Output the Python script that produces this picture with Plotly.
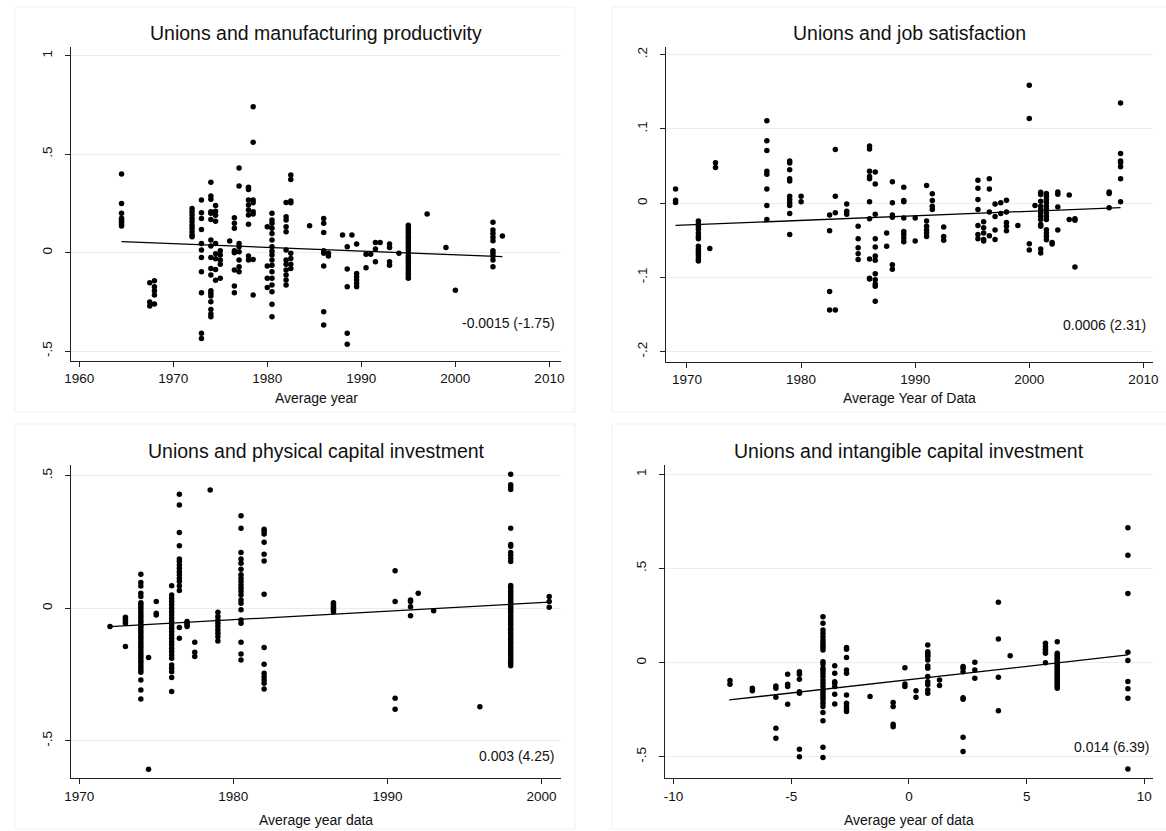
import plotly.graph_objects as go

# ---------------- DATA ----------------
# Panel 1: Unions and manufacturing productivity (x = average year)
p1_cols = [
    (1964.5, [0.40, 0.25, 0.20, 0.175, 0.165, 0.155, 0.145, 0.135]),
    (1967.5, [-0.152, -0.25, -0.27]),
    (1968.0, [-0.142, -0.173, -0.193, -0.215, -0.26]),
    (1972.0, [0.225, 0.208, 0.191, 0.174, 0.157, 0.14, 0.124, 0.107, 0.09, 0.081]),
    (1973.0, [0.267, 0.203, 0.174, 0.118, 0.047, 0.014, -0.024, -0.096, -0.203, -0.409, -0.435]),
    (1974.0, [0.357, 0.288, 0.271, 0.208, 0.2, 0.169, 0.064, 0.034, -0.024, -0.08, -0.113, -0.193,
              -0.206, -0.22, -0.249, -0.288, -0.311, -0.325]),
    (1974.5, [0.24, 0.21, 0.19, 0.16, 0.047, -0.005, -0.03, -0.085, -0.14]),
    (1975.0, [0.01, -0.012, -0.037, -0.058, -0.13]),
    (1976.0, [0.059]),
    (1976.5, [0.178, 0.149, 0.124, 0.01, 0.0, -0.088, -0.169, -0.203]),
    (1977.0, [0.43, 0.338, 0.047, 0.03, 0.005, -0.037, -0.071, -0.096]),
    (1978.0, [0.332, 0.321, 0.267, 0.242, 0.217, 0.191, 0.144, -0.017, -0.037]),
    (1978.5, [0.741, 0.56, 0.267, 0.254, 0.208, 0.196, -0.034, -0.215]),
    (1980.0, [0.132, -0.068, -0.13, -0.176]),
    (1980.5, [0.2, 0.166, 0.149, 0.124, 0.098, 0.064, 0.03, 0.008, -0.012, -0.037, -0.063, -0.096,
              -0.13, -0.164, -0.198, -0.262, -0.325]),
    (1982.0, [0.255, 0.183, 0.166, 0.132, 0.107, 0.014, -0.037, -0.058, -0.088, -0.113, -0.139, -0.164]),
    (1982.5, [0.394, 0.372, 0.262, 0.254, -0.003, -0.029, -0.058, -0.08]),
    (1984.5, [0.137]),
    (1986.0, [0.174, 0.149, 0.103, 0.01, -0.003, -0.068, -0.3, -0.367]),
    (1986.5, [-0.003, -0.017]),
    (1988.0, [0.09]),
    (1988.5, [0.03, -0.083, -0.173, -0.409, -0.464]),
    (1989.0, [0.09]),
    (1989.5, [0.044, -0.105, -0.122, -0.139, -0.156, -0.173]),
    (1990.5, [-0.008, -0.076]),
    (1991.0, [-0.008]),
    (1991.5, [0.052, 0.019, -0.046]),
    (1992.0, [0.052]),
    (1993.0, [0.044, 0.027, -0.046, -0.063]),
    (1994.0, [-0.003]),
    (1995.0, [0.140, 0.127, 0.115, 0.102, 0.090, 0.078, 0.064, 0.052, 0.039, 0.027, 0.014, -0.003,
              -0.017, -0.029, -0.042, -0.054, -0.068, -0.080, -0.093, -0.105, -0.118, -0.130]),
    (1997.0, [0.196]),
    (1999.0, [0.027]),
    (2000.0, [-0.19]),
    (2004.0, [0.154, 0.115, 0.098, 0.078, 0.061, 0.01, -0.003, -0.017, -0.037, -0.071]),
    (2005.0, [0.085]),
]
p1_fit_x = [1964.5, 2005.0]
p1_fit_y = [0.056, -0.020]

# Panel 2: Unions and job satisfaction
p2_cols = [
    (1969.0, [0.019, 0.004, 0.001]),
    (1971.0, [-0.024, -0.028, -0.031, -0.035, -0.040, -0.045, -0.048, -0.058, -0.062, -0.065,
              -0.068, -0.071, -0.075, -0.078]),
    (1972.0, [-0.061]),
    (1972.5, [0.0545, 0.048]),
    (1977.0, [0.111, 0.084, 0.071, 0.043, 0.039, 0.019, -0.003, -0.022]),
    (1979.0, [0.057, 0.054, 0.045, 0.033, 0.030, 0.0095, 0.005, 0.0005, -0.003, -0.014, -0.042]),
    (1980.0, [0.0095, 0.002]),
    (1982.5, [-0.016, -0.037, -0.119, -0.144]),
    (1983.0, [0.0725, 0.0095, -0.013, -0.144]),
    (1984.0, [-0.001, -0.011, -0.015]),
    (1985.0, [-0.031, -0.048, -0.060, -0.068, -0.076]),
    (1986.0, [0.077, 0.073, 0.043, 0.036, 0.033, 0.002, -0.021, -0.075, -0.101, -0.102]),
    (1986.5, [0.042, 0.026, -0.015, -0.048, -0.059, -0.071, -0.077, -0.095, -0.103, -0.109, -0.112, -0.132]),
    (1987.5, [-0.040, -0.058]),
    (1988.0, [0.029, 0.0005, -0.016, -0.019, -0.083, -0.089]),
    (1989.0, [0.0216, 0.0036, 0.002, -0.020, -0.038, -0.042, -0.047, -0.052]),
    (1990.0, [-0.020, -0.051]),
    (1991.0, [0.024, -0.024, -0.031, -0.036, -0.040, -0.045]),
    (1991.5, [0.0126, 0.0036, -0.004, -0.0086]),
    (1992.5, [-0.032, -0.045, -0.050]),
    (1995.5, [0.031, 0.020, 0.005, -0.0086, -0.030, -0.042, -0.048]),
    (1996.0, [-0.025, -0.033, -0.040, -0.049, -0.051]),
    (1996.5, [0.033, 0.019, -0.012, -0.044]),
    (1997.0, [-0.001, -0.018, -0.036, -0.049]),
    (1997.5, [0.0005, -0.014]),
    (1998.0, [0.004, -0.012, -0.026, -0.031, -0.037]),
    (1999.0, [-0.030]),
    (2000.0, [0.159, 0.114, -0.0545, -0.063]),
    (2000.5, [-0.003]),
    (2001.0, [0.0149, 0.0117, 0.0027, -0.0041, -0.0086, -0.0131, -0.0176, -0.0221, -0.0288, -0.0311,
              -0.0617, -0.0671]),
    (2001.5, [0.0131, 0.0095, 0.005, 0.0005, -0.0041, -0.0086, -0.0131, -0.0176, -0.0221, -0.0356,
              -0.0401, -0.0446, -0.0491]),
    (2002.0, [-0.053, -0.055]),
    (2002.5, [0.015, 0.012, -0.005, -0.036]),
    (2003.5, [0.011, -0.022]),
    (2004.0, [-0.021, -0.023, -0.086]),
    (2007.0, [0.015, 0.013, -0.006]),
    (2008.0, [0.135, 0.067, 0.057, 0.0545, 0.049, 0.033, 0.002]),
]
p2_fit_x = [1969.0, 2008.0]
p2_fit_y = [-0.030, -0.0059]

# Panel 3: Unions and physical capital investment
p3_cols = [
    (1972.0, [-0.069]),
    (1973.0, [-0.034, -0.041, -0.050, -0.057, -0.144]),
    (1974.0, [0.128, 0.097, 0.084, 0.057, 0.044, 0.021, 0.013, 0.004, -0.006, -0.016, -0.025, -0.034,
              -0.044, -0.053, -0.063, -0.072, -0.082, -0.090, -0.101, -0.109, -0.119, -0.129, -0.138,
              -0.147, -0.157, -0.167, -0.176, -0.185, -0.195, -0.204, -0.214, -0.223, -0.233, -0.241,
              -0.270, -0.308, -0.342]),
    (1974.5, [-0.186, -0.607]),
    (1975.0, [0.025, -0.019, -0.025]),
    (1976.0, [0.085, 0.050, 0.038, 0.025, 0.013, 0.0, -0.013, -0.025, -0.038, -0.050, -0.063, -0.075,
              -0.088, -0.101, -0.113, -0.126, -0.138, -0.151, -0.163, -0.176, -0.188, -0.214, -0.226,
              -0.239, -0.261, -0.314]),
    (1976.5, [0.430, 0.389, 0.286, 0.236, 0.186, 0.176, 0.163, 0.151, 0.138, 0.126, 0.113, 0.101,
              0.084, 0.067, -0.073, -0.113]),
    (1977.0, [-0.050, -0.057, -0.063, -0.069]),
    (1977.5, [-0.128, -0.166, -0.182]),
    (1978.5, [0.446]),
    (1979.0, [-0.015, -0.031, -0.044, -0.057, -0.069, -0.082, -0.094, -0.107, -0.123]),
    (1980.5, [0.349, 0.302, 0.210, 0.186, 0.170, 0.147, 0.126, 0.113, 0.101, 0.088, 0.075, 0.063,
              0.050, 0.031, 0.019, -0.006, -0.044, -0.057, -0.128, -0.172, -0.195]),
    (1982.0, [0.298, 0.289, 0.280, 0.249, 0.204, 0.178, 0.053, -0.148, -0.211, -0.245, -0.258,
              -0.270, -0.283, -0.304]),
    (1986.5, [0.021, 0.013, 0.006, 0.0, -0.006, -0.013]),
    (1990.5, [0.141, 0.025, -0.339, -0.381]),
    (1991.5, [0.031, 0.025, 0.006, -0.028]),
    (1992.0, [0.057]),
    (1993.0, [-0.009]),
    (1996.0, [-0.371]),
    (1998.0, [0.505, 0.466, 0.457, 0.448, 0.302, 0.240, 0.234, 0.210, 0.200, 0.188, 0.176,
              0.086, 0.078, 0.070, 0.062, 0.055, 0.047, 0.040, 0.032, 0.024, 0.016, 0.008, 0.0,
              -0.008, -0.016, -0.025, -0.033, -0.041, -0.050, -0.058, -0.066, -0.075, -0.083,
              -0.092, -0.100, -0.108, -0.117, -0.125, -0.133, -0.142, -0.150, -0.158, -0.167,
              -0.175, -0.183, -0.192, -0.200, -0.208, -0.217]),
    (2000.5, [0.044, 0.025, 0.004]),
]
p3_fit_x = [1972.0, 2000.5]
p3_fit_y = [-0.069, 0.023]

# Panel 4: Unions and intangible capital investment (x = average year of data, centred)
p4_cols = [
    (-7.6, [-0.095, -0.115]),
    (-6.65, [-0.136, -0.149]),
    (-5.65, [-0.124, -0.136, -0.184, -0.348, -0.401]),
    (-5.15, [-0.062, -0.115, -0.127, -0.221]),
    (-4.65, [-0.048, -0.062, -0.088, -0.154, -0.163, -0.460, -0.499]),
    (-3.65, [0.244, 0.209, 0.173, 0.156, 0.138, 0.120, 0.106, 0.094, 0.081, 0.067, 0.005, -0.007,
             -0.030, -0.042, -0.057, -0.074, -0.092, -0.110, -0.127, -0.145, -0.159, -0.172, -0.184,
             -0.198, -0.216, -0.233, -0.265, -0.309, -0.449, -0.504]),
    (-3.15, [-0.016, -0.057, -0.101, -0.110, -0.127, -0.168, -0.219]),
    (-2.65, [0.080, 0.071, 0.027, -0.039, -0.057, -0.172, -0.216, -0.233, -0.248, -0.260]),
    (-1.65, [-0.180]),
    (-0.67, [-0.212, -0.233, -0.327, -0.340]),
    (-0.17, [-0.027, -0.113, -0.127]),
    (0.3, [-0.149, -0.184]),
    (0.8, [0.094, 0.058, 0.050, 0.041, 0.032, 0.014, -0.018, -0.030, -0.074, -0.101, -0.118, -0.145, -0.163]),
    (1.3, [-0.092, -0.122]),
    (2.3, [-0.021, -0.030, -0.048, -0.186, -0.195, -0.396, -0.472]),
    (2.8, [0.002, -0.039, -0.083]),
    (3.8, [0.320, 0.126, -0.078, -0.255]),
    (4.3, [0.037]),
    (5.8, [0.103, 0.085, 0.071, 0.058, 0.050, 0.0]),
    (6.3, [0.111, 0.050, 0.041, 0.032, 0.023, 0.014, 0.005, -0.004, -0.012, -0.021, -0.030, -0.039,
           -0.048, -0.057, -0.065, -0.074, -0.083, -0.092, -0.101, -0.110, -0.118, -0.127, -0.136]),
    (9.3, [0.716, 0.570, 0.367, 0.055, 0.011, -0.100, -0.139, -0.189, -0.564]),
]
p4_fit_x = [-7.63, 9.3]
p4_fit_y = [-0.198, 0.041]

titles = ["Unions and manufacturing productivity", "Unions and job satisfaction",
          "Unions and physical capital investment", "Unions and intangible capital investment"]
xtitles = ["Average year", "Average Year of Data", "Average year data", "Average year of data"]
coef_labels = ["-0.0015 (-1.75)", "0.0006 (2.31)", "0.003 (4.25)", "0.014 (6.39)"]

x_ticks = [[1960, 1970, 1980, 1990, 2000, 2010], [1970, 1980, 1990, 2000, 2010],
           [1970, 1980, 1990, 2000], [-10, -5, 0, 5, 10]]
y_ticks = [[-0.5, 0, 0.5, 1], [-0.2, -0.1, 0, 0.1, 0.2], [-0.5, 0, 0.5], [-0.5, 0, 0.5, 1]]
y_ticktext = [["-.5", "0", ".5", "1"], ["-.2", "-.1", "0", ".1", ".2"], ["-.5", "0", ".5"],
              ["-.5", "0", ".5", "1"]]

# ---------------- LAYOUT GEOMETRY (pixels) ----------------
W, H = 1166, 831
# left, right, top, bottom of each plot region
boxes = [(64.7, 560, 47, 360.7), (666.3, 1158, 47, 361.7),
         (64.7, 560, 465, 778.3), (665.3, 1158, 465, 778.3)]
x_ranges = [[1959.13, 2011.26], [1968.2, 2010.85], [1969.47, 2001.28], [-10.34, 10.37]]
y_ranges = [[-0.548, 1.044], [-0.2135, 0.2104], [-0.641, 0.540], [-0.614, 1.049]]
title_y = [33, 33, 451, 451]
xtitle_y = [398, 398, 820, 820]
coef_pos = [(556, 323), (1153, 325), (556, 756), (1157, 747)]
outer = [(8, 574, 7, 412), (611, 1172, 7, 412), (8, 574, 424, 829), (611, 1172, 424, 829)]

FONT = "Liberation Sans, Arial, sans-serif"
TXT = "#111111"
GRID = "#e8eff0"


def fx(px):
    return px / W


def fy(py):
    return 1 - py / H


fig = go.Figure()
annotations = []
shapes = []
layout_axes = {}

all_cols = [p1_cols, p2_cols, p3_cols, p4_cols]
fits = [(p1_fit_x, p1_fit_y), (p2_fit_x, p2_fit_y), (p3_fit_x, p3_fit_y), (p4_fit_x, p4_fit_y)]

for i in range(4):
    n = "" if i == 0 else str(i + 1)
    xs, ys = [], []
    for xv, yl in all_cols[i]:
        for yv in yl:
            xs.append(xv)
            ys.append(yv)
    fig.add_trace(go.Scatter(x=xs, y=ys, mode="markers", xaxis="x" + n, yaxis="y" + n,
                             marker=dict(size=5.5, color="black", line=dict(width=0)),
                             showlegend=False, hoverinfo="skip"))
    fig.add_trace(go.Scatter(x=fits[i][0], y=fits[i][1], mode="lines", xaxis="x" + n, yaxis="y" + n,
                             line=dict(color="black", width=1.3), showlegend=False, hoverinfo="skip"))
    l, r, t, b = boxes[i]
    layout_axes["xaxis" + n] = dict(
        domain=[fx(l), fx(r)], anchor="y" + n, range=x_ranges[i], showgrid=False, zeroline=False,
        showline=True, linecolor="#222222", linewidth=1, ticks="outside", ticklen=5, tickwidth=1,
        tickcolor="#222222", tickvals=x_ticks[i], ticktext=[str(v) for v in x_ticks[i]],
        tickfont=dict(family=FONT, size=13.5, color=TXT), fixedrange=True)
    layout_axes["yaxis" + n] = dict(
        domain=[fy(b), fy(t)], anchor="x" + n, range=y_ranges[i], showgrid=True, gridcolor=GRID,
        gridwidth=1, zeroline=False, showline=True, linecolor="#222222", linewidth=1,
        ticks="outside", ticklen=5, tickwidth=1, tickcolor="#222222", tickvals=y_ticks[i],
        ticktext=y_ticktext[i], tickangle=-90, ticklabelstandoff=8,
        tickfont=dict(family=FONT, size=13.5, color=TXT), fixedrange=True)
    annotations.append(dict(text=titles[i], x=fx((l + r) / 2), y=fy(title_y[i]), xref="paper",
                            yref="paper", xanchor="center", yanchor="middle", showarrow=False,
                            font=dict(family=FONT, size=19.5, color=TXT)))
    annotations.append(dict(text=xtitles[i], x=fx((l + r) / 2), y=fy(xtitle_y[i]), xref="paper",
                            yref="paper", xanchor="center", yanchor="middle", showarrow=False,
                            font=dict(family=FONT, size=14, color=TXT)))
    cx, cy = coef_pos[i]
    annotations.append(dict(text=coef_labels[i], x=fx(cx), y=fy(cy), xref="paper", yref="paper",
                            xanchor="right", yanchor="middle", showarrow=False,
                            font=dict(family=FONT, size=14, color=TXT)))
    ol, orr, ot, ob = outer[i]
    shapes.append(dict(type="rect", xref="paper", yref="paper", x0=fx(ol), x1=fx(orr), y0=fy(ob),
                       y1=fy(ot), line=dict(color="#eef2f3", width=1), layer="below"))

fig.update_layout(width=W, height=H, margin=dict(l=0, r=0, t=0, b=0), paper_bgcolor="white",
                  plot_bgcolor="white", annotations=annotations, shapes=shapes, **layout_axes)

fig.write_html("out.html", config={"displayModeBar": False})
